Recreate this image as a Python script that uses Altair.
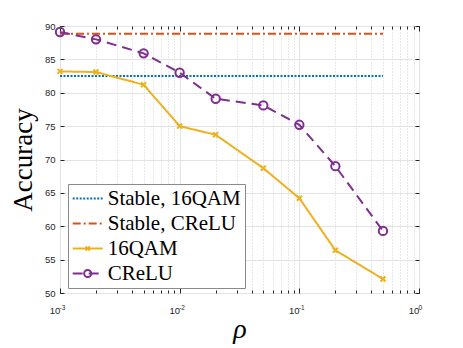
import json
import altair as alt
import pandas as pd

# ---- data ----
rho = [0.001, 0.002, 0.005, 0.01, 0.02, 0.05, 0.1, 0.2, 0.5]
acc_16qam = [83.2, 83.1, 81.2, 75.0, 73.7, 68.7, 64.2, 56.4, 52.1]
acc_crelu = [89.1, 88.0, 85.9, 83.0, 79.1, 78.1, 75.2, 69.0, 59.3]
stable_rho = [0.001, 0.5]
stable_16qam = [82.5, 82.5]
stable_crelu = [88.85, 88.85]

series_names = ["Stable, 16QAM", "Stable, CReLU", "16QAM", "CReLU"]
marker_keys = ["m_s16", "m_scr", "m_16", "m_cr"]
series_colors = ["#0072BD", "#D95319", "#EDB120", "#7E2F8E"]
series_dashes = [[2, 1.5], [8, 3, 2, 3], [1, 0], [10, 6]]
marker_shapes = ["M0,0", "M0,0",
                 "M-0.6,-0.6L0.6,0.6M-0.6,0.6L0.6,-0.6", "circle"]

y_ticks = [50, 55, 60, 65, 70, 75, 80, 85, 90]
x_major = [0.001, 0.01, 0.1, 1.0]
x_major_sup = ["-3", "-2", "-1", "0"]
x_minor = [m * d for d in [0.001, 0.01, 0.1] for m in [2, 3, 4, 5, 6, 7, 8, 9]]
x_all = sorted(x_major + x_minor)

W, H = 359, 267

# ---- tables ----
rows = []
for x, v in zip(stable_rho, stable_16qam):
    rows.append({"series": series_names[0], "rho": x, "acc": v})
for x, v in zip(stable_rho, stable_crelu):
    rows.append({"series": series_names[1], "rho": x, "acc": v})
for x, v in zip(rho, acc_16qam):
    rows.append({"series": series_names[2], "rho": x, "acc": v})
for x, v in zip(rho, acc_crelu):
    rows.append({"series": series_names[3], "rho": x, "acc": v})
line_df = pd.DataFrame(rows)

prow = []
for x, v in zip(rho, acc_16qam):
    prow.append({"marker": marker_keys[2], "rho": x, "acc": v})
for x, v in zip(rho, acc_crelu):
    prow.append({"marker": marker_keys[3], "rho": x, "acc": v})
pt_df = pd.DataFrame(prow)

major_test = f"indexof({json.dumps(x_major)}, datum.value) >= 0"
base_label = f"{major_test} ? '10' : ''"
sup_label = "".join(f"datum.value == {v} ? '{s}' : " for v, s in zip(x_major, x_major_sup)) + "''"

xs = alt.Scale(type="log", domain=[0.001, 1.0], nice=False)
ys = alt.Scale(domain=[50, 90], nice=False, zero=False)

TXT = "#262626"
SANS = "Liberation Sans"
SERIF = "Liberation Serif"

leg_common = dict(title=None, orient="none", legendX=8, legendY=158,
                  labelFontSize=21, labelFont=SERIF, padding=4, rowPadding=3,
                  symbolOffset=5.2, labelOffset=9.5, labelLimit=400)

leg1 = alt.Legend(**leg_common, symbolType="M-2.5,0H2.5", symbolSize=144,
                  symbolStrokeWidth=2, labelColor="black",
                  fillColor="white", strokeColor="#8a8a8a")
leg2 = alt.Legend(**leg_common, symbolSize=50, symbolStrokeWidth=2,
                  labelExpr="''", zindex=1, symbolFillColor="transparent")

lines = alt.Chart(line_df).mark_line(strokeWidth=2).encode(
    x=alt.X("rho:Q", scale=xs, axis=alt.Axis(
        orient="bottom", values=x_all, labelExpr=base_label,
        labelOverlap=False, labelFlush=False,
        grid=True,
        gridDash={"condition": {"test": major_test, "value": []}, "value": [1, 2]},
        gridColor={"condition": {"test": major_test, "value": "#e3e3e3"}, "value": "#d0d0d0"},
        ticks=False, tickSize=0, domain=False,
        labelPadding=20, labelBaseline="alphabetic", labelOffset=-5.5,
        labelFont=SANS, labelFontSize=9.5, labelColor=TXT,
        title="ρ", titleX=W / 2, titleY=44, titleBaseline="alphabetic",
        titleFont=SERIF, titleFontStyle="italic", titleFontWeight="normal",
        titleFontSize=28, titleColor="black")),
    y=alt.Y("acc:Q", scale=ys, axis=alt.Axis(
        orient="left", values=y_ticks, grid=True, gridColor="#e3e3e3",
        ticks=False, tickSize=0, domain=False, labelPadding=5,
        labelFont=SANS, labelFontSize=9.5, labelColor=TXT,
        title="Accuracy", titleX=-28.3, titleY=H / 2, titleAngle=270,
        titleBaseline="alphabetic", titleAlign="center",
        titleFont=SERIF, titleFontWeight="normal", titleFontSize=27,
        titleColor="black")),
    color=alt.Color("series:N", scale=alt.Scale(domain=series_names, range=series_colors), legend=leg1),
    strokeDash=alt.StrokeDash("series:N", scale=alt.Scale(domain=series_names, range=series_dashes), legend=leg1),
)

points = alt.Chart(pt_df).mark_point(filled=False, strokeWidth=2, size=70, opacity=1).encode(
    x=alt.X("rho:Q", scale=xs, axis=alt.Axis(
        orient="top", offset=-H, values=x_all, labels=False, grid=False,
        domain=False, ticks=True, tickColor=TXT, tickWidth=1,
        tickSize={"condition": {"test": major_test, "value": 5}, "value": 3},
        title=None)),
    y=alt.Y("acc:Q", scale=ys, axis=alt.Axis(
        orient="right", offset=-W, values=y_ticks, labels=False, grid=False,
        domain=False, ticks=True, tickColor=TXT, tickWidth=1, tickSize=4,
        title=None)),
    color=alt.Color("marker:N", scale=alt.Scale(domain=marker_keys, range=series_colors), legend=leg2),
    shape=alt.Shape("marker:N", scale=alt.Scale(domain=marker_keys, range=marker_shapes), legend=leg2),
)

ticks_tr = alt.Chart(pt_df).mark_point(opacity=0).encode(
    x=alt.X("rho:Q", scale=xs, axis=alt.Axis(
        orient="bottom", offset=-H, values=x_all, labels=False, grid=False,
        domain=False, ticks=True, tickColor=TXT, tickWidth=1,
        tickSize={"condition": {"test": major_test, "value": 5}, "value": 3},
        title=None)),
    y=alt.Y("acc:Q", scale=ys, axis=alt.Axis(
        orient="left", offset=-W, values=y_ticks, labels=False, grid=False,
        domain=False, ticks=True, tickColor=TXT, tickWidth=1, tickSize=4,
        title=None)),
)

sups = alt.Chart(pt_df).mark_point(opacity=0).encode(
    x=alt.X("rho:Q", scale=xs, axis=alt.Axis(
        orient="bottom", values=x_major, labelExpr=sup_label,
        labelOverlap=False, labelFlush=False, grid=False, domain=False,
        ticks=False, tickSize=0, labelPadding=16.5,
        labelBaseline="alphabetic", labelAlign="left", labelOffset=-1,
        labelFont=SANS, labelFontSize=6.5, labelColor=TXT, title=None)),
    y=alt.Y("acc:Q", scale=ys, axis=None),
)

chart = alt.layer(lines, points, ticks_tr, sups).resolve_scale(
    color="independent", shape="independent", strokeDash="independent"
).resolve_legend(
    color="independent", shape="independent", strokeDash="independent"
).resolve_axis(x="independent", y="independent").properties(
    width=W, height=H,
    autosize=alt.AutoSizeParams(type="none"),
    padding={"left": 52, "top": 18, "right": 36, "bottom": 52},
).configure_view(stroke="#3a3a3a", strokeWidth=1)

chart.save("out.html", embed_options={"renderer": "svg", "actions": False})
